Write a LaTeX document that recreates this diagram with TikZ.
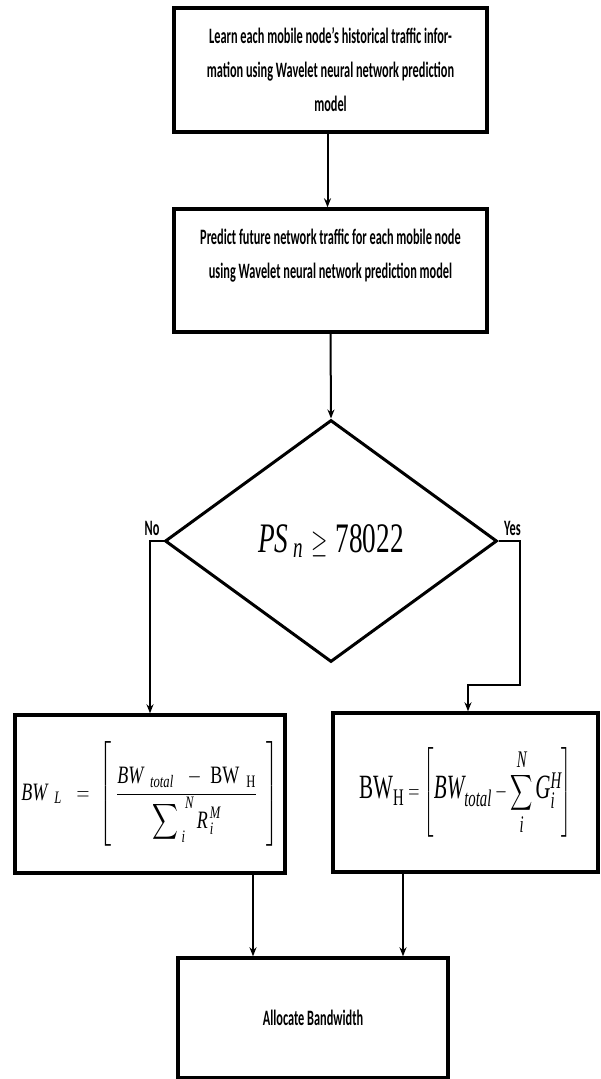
\documentclass[tikz,border=0pt]{standalone}
\usepackage{amsmath}
\usepackage{fontspec}
\setmainfont{Carlito}[FakeStretch=0.56]
\newfontfamily\tms[NFSSFamily=tms]{Liberation Serif}
\DeclareMathAlphabet{\mti}{TU}{tms}{m}{it}
\DeclareMathAlphabet{\mtr}{TU}{tms}{m}{n}
\usetikzlibrary{arrows.meta, positioning, shapes.geometric, calc}

\begin{document}
\begin{tikzpicture}[x=1pt, y=-1pt, >={Stealth[length=9pt,width=7pt]}, line width=2pt]
            \tikzset{stepbox/.style={rectangle, draw, line width=3.4pt, align=center, inner sep=0pt, font=\fontsize{22}{34}\selectfont\bfseries},
                decbox/.style={diamond, draw, line width=3pt, inner sep=0pt},
                lbl/.style={font=\fontsize{22}{22}\selectfont\bfseries, inner sep=4pt}}
            \useasboundingbox (0,0) rectangle (600,1079);
            \node[stepbox, minimum width=313pt, minimum height=124pt] (learn) at (330.5,70) {Learn each mobile node's historical traffic infor-\\mation using Wavelet neural network prediction\\model};
            \node[stepbox, minimum width=313pt, minimum height=123pt] (predict) at (330.5,270.5) {Predict future network traffic for each mobile node\\using Wavelet neural network prediction model\\\mbox{}};
            \node[decbox, minimum width=332pt, minimum height=242pt] (dec) at (331,541) {\scalebox{0.65}[1]{\fontsize{42}{42}\selectfont $\mti{PS}_{\;\mti{n}}\;\mathbin{\scalebox{1.3}{$\geq$}}\;\mtr{78022}$}};
            \node[stepbox, minimum width=270pt, minimum height=158pt] (lbox) at (150,794) {\scalebox{0.72}[1]{\fontsize{25}{25}\selectfont $\mti{BW}_{\;\;\mti{L}}\;\;=\;\left[\;\dfrac{\mti{BW}_{\;\;\mti{total}}\;\;-\;\mtr{BW}_{\;\;\mtr{H}}}{\displaystyle\sum\nolimits_{\;\mti{i}}^{\;\;\mti{N}} \mti{R}_{\,\mti{i}}^{\,\mti{M}}}\;\;\right]$}};
            \node[stepbox, minimum width=265pt, minimum height=159pt] (rbox) at (465.5,792.5) {\scalebox{0.62}[1]{\fontsize{34}{34}\selectfont $\displaystyle\mtr{BW}_{\mtr{H}}=\left[\mti{BW}_{\mti{total}}-\sum_{\mti{i}}^{\mti{N}}\mti{G}_{\mti{i}}^{\mti{H}}\right]$}};
            \node[stepbox, minimum width=270pt, minimum height=120pt] (alloc) at (313,1018) {Allocate Bandwidth};
            \coordinate (inL) at ([xshift=-60pt]alloc.north);
            \coordinate (inR) at ([xshift=90pt]alloc.north);
            \draw[->] ([xshift=-3pt]learn.south) -- ([xshift=-3pt]predict.north);
            \draw[->] (predict.south) -- (dec.north);
            \draw[->] (dec.west) -| node[lbl, pos=0.5, above, xshift=2pt] {No} (lbox.north);
            \draw[->] (dec.east) -- ++(21,0) node[lbl, above, xshift=-7pt] {Yes} |- ([shift={(2.5,-26)}]rbox.north) -- ([xshift=2.5pt]rbox.north);
            \draw[->] (lbox.south -| inL) -- (inL);
            \draw[->] (rbox.south -| inR) -- (inR);
        \end{tikzpicture}
\end{document}
